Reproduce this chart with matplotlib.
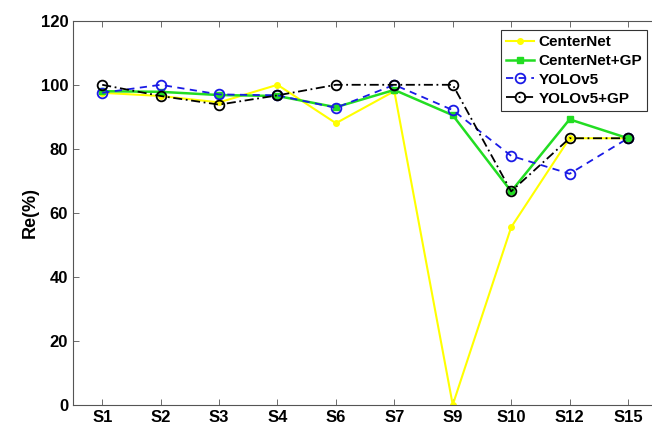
import matplotlib
matplotlib.use('Agg')
import matplotlib.pyplot as plt

plt.rcParams['font.family'] = ['Liberation Sans', 'DejaVu Sans']
plt.rcParams['font.weight'] = 'bold'

scenes = ['S1', 'S2', 'S3', 'S4', 'S6', 'S7', 'S9', 'S10', 'S12', 'S15']
centernet = [97.5, 96.5, 94.5, 100, 88, 98, 0, 55.5, 83.3, 83.3]
centernet_gp = [98, 97.8, 96.8, 96.5, 93, 98.4, 90.5, 66.7, 89.2, 83.3]
yolov5 = [97.5, 100, 97, 96.7, 92.8, 100, 92.1, 77.8, 72.2, 83.3]
yolov5_gp = [100, 96.5, 93.8, 96.7, 100, 100, 100, 66.7, 83.3, 83.3]

x = list(range(1, len(scenes) + 1))

fig = plt.figure(figsize=(6.52, 4.33), dpi=100)
ax = fig.add_axes([0.112, 0.065, 0.896, 0.887])

ax.plot(x, centernet, color='#ffff00', lw=1.5, marker='o', ms=4,
        label='CenterNet')
ax.plot(x, centernet_gp, color='#22dd22', lw=1.8, marker='s', ms=4,
        label='CenterNet+GP')
ax.plot(x, yolov5, color='#1a1ae6', lw=1.3, ls=(0, (4, 3)), marker='o', ms=7,
        mfc='none', mew=1.3, label='YOLOv5')
ax.plot(x, yolov5_gp, color='black', lw=1.3, ls=(0, (5, 2, 1, 2)), marker='o',
        ms=7, mfc='none', mew=1.3, label='YOLOv5+GP')

ax.set_xlim(0.5, 10.5)
ax.set_ylim(0, 120)
ax.set_xticks(x)
ax.set_xticklabels(scenes)
ax.set_yticks(range(0, 121, 20))
ax.set_ylabel('Re(%)', fontsize=13, fontweight='bold', labelpad=1)

for s in ['left', 'bottom', 'top', 'right']:
    ax.spines[s].set_color('#555555')
    ax.spines[s].set_linewidth(0.8)
ax.tick_params(direction='in', length=4, width=0.6, colors='#555555',
               labelcolor='black', labelsize=12, top=True, right=False)

leg = ax.legend(loc='upper right', bbox_to_anchor=(0.983, 0.977), fontsize=11,
                handlelength=1.8, handletextpad=0.3, borderpad=0.35,
                labelspacing=0.32, fancybox=False, framealpha=1,
                edgecolor='#333333', borderaxespad=0)
leg.get_frame().set_linewidth(0.8)

fig.savefig('out.png', dpi=100)
